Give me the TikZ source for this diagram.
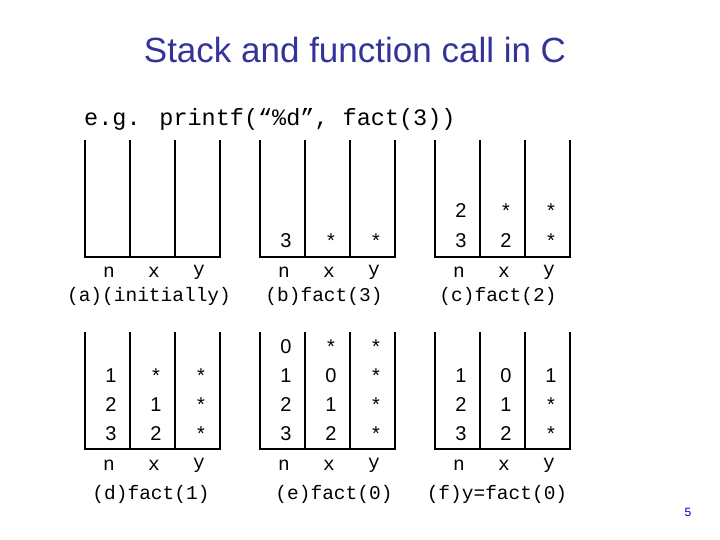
\documentclass[tikz,border=0pt]{standalone}
\usepackage{fontspec}
\setmainfont{Liberation Sans}
\newfontfamily\cour{Liberation Mono}
\definecolor{ttl}{RGB}{51,51,153}
\begin{document}
\begin{tikzpicture}[x=1pt,y=-1pt,
  wall/.style={line width=2.5pt},
  div/.style={line width=1.2pt},
  val/.style={font=\fontsize{20}{20}\selectfont},
  lab/.style={font=\cour\fontsize{19.5}{20}\selectfont},
  ]
\useasboundingbox (0,0) rectangle (720,540);
\node[font=\fontsize{35}{36}\selectfont, text=ttl] (title) at (355,50) {Stack and function call in C};
\node[font=\cour\fontsize{23.5}{24}\selectfont, anchor=west, inner sep=0] (eg) at (84,119) {e.g. printf(“\%d”, fact(3))};
% stacks
\foreach \x/\top/\bot in {85/140/257, 260/140/257, 435/140/257, 85/332/449, 260/332/449, 435/332/449}{
  \draw[wall] (\x,\top) -- (\x,\bot) -- (\x+135,\bot) -- (\x+135,\top);
  \draw[div] (\x+45,\top) -- (\x+45,\bot);
  \draw[div] (\x+90,\top) -- (\x+90,\bot);
}
% labels
\foreach \x/\y/\cx/\cy/\cap/\nm in {154/272/149/296/(a)(initially)/la, 329/272/324/296/(b)fact(3)/lb, 504/272/498/296/(c)fact(2)/lc,
  154/465/151/494/(d)fact(1)/ld, 329/465/334/494/(e)fact(0)/le, 504/465/497/494/(f)y=fact(0)/lf}{
  \node[lab] (\nm n) at (\x-45,\y) {n};
  \node[lab] (\nm x) at (\x,\y) {x};
  \node[lab] (\nm y) at (\x+45,\y) {y};
  \node[lab] (\nm c) at (\cx,\cy) {\cap};
}
% values
\foreach \x/\y/\t [count=\i] in {
 297/241/3, 342/241/*, 387/241/*,
 472/211/2, 517/211/*, 562/211/*,
 472/241/3, 517/241/2, 562/241/*,
 122/376/1, 167/376/*, 212/376/*,
 122/405/2, 167/405/1, 212/405/*,
 122/434/3, 167/434/2, 212/434/*,
 297/347/0, 342/347/*, 387/347/*,
 297/376/1, 342/376/0, 387/376/*,
 297/405/2, 342/405/1, 387/405/*,
 297/434/3, 342/434/2, 387/434/*,
 472/376/1, 517/376/0, 562/376/1,
 472/405/2, 517/405/1, 562/405/*,
 472/434/3, 517/434/2, 562/434/*}{
  \node[val] (v\i) at (\x-11,\y) {\t};
}
\node[font=\fontsize{12}{12}\selectfont, text=blue!70!black] (pg) at (688,512) {5};
\end{tikzpicture}
\end{document}
